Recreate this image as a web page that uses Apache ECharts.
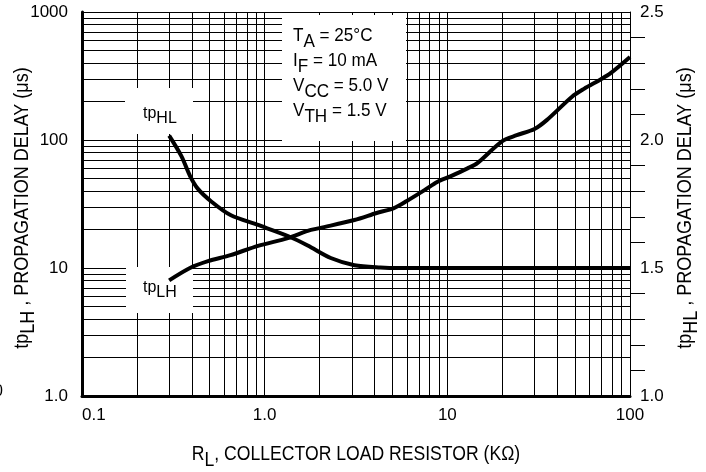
<!DOCTYPE html>
<html><head><meta charset="utf-8">
<script src="https://cdn.jsdelivr.net/npm/echarts@6/dist/echarts.min.js"></script>
<style>html,body{margin:0;padding:0;background:#fff}#c{width:706px;height:472px}</style>
</head><body><div id="c"></div>
<script>
// ---- data ----
const tpLH_x = [0.3, 0.39, 0.49, 0.65, 0.92, 1.34, 1.72, 2.0, 3.1, 4.1, 5.1, 6.0, 7.5, 8.8, 10.4, 12.9, 14.6, 20, 24, 30, 35, 48, 56, 69, 78, 100];
const tpLH_y = [8.0, 10.0, 11.3, 12.6, 14.9, 17.1, 19.5, 20.5, 23.7, 26.9, 29.4, 33.4, 40.6, 47, 52, 60, 66, 98, 109, 122, 143, 217, 251, 297, 331, 445];
const tpHL_x = [0.3, 0.35, 0.39, 0.43, 0.51, 0.65, 0.92, 1.34, 1.72, 2.3, 3.1, 4.3, 5.5, 10, 100];
const tpHL_v = [2.017, 1.937, 1.86, 1.81, 1.76, 1.707, 1.668, 1.625, 1.588, 1.539, 1.511, 1.502, 1.5, 1.5, 1.5];

const xLabelValues = [0.1, 1, 10, 100];
const xLabelText = ['0.1', '1.0', '10', '100'];
const yLeftLabelValues = [1, 10, 100, 1000];
const yLeftLabelText = ['1.0', '10', '100', '1000'];
const conditions = [['T', 'A', ' = 25°C'], ['I', 'F', ' = 10 mA'], ['V', 'CC', ' = 5.0 V'], ['V', 'TH', ' = 1.5 V']];
const xTitle = ['R', 'L', ', COLLECTOR LOAD RESISTOR (KΩ)'];
const yLeftTitle = ['tp', 'LH', ' , PROPAGATION DELAY (μs)'];
const yRightTitle = ['tp', 'HL', ' , PROPAGATION DELAY (μs)'];

// grid line values (1..9 per decade)
function decadeValues(lo, hi) {
  const out = [];
  for (let d = lo; d < hi * 0.999; d *= 10) for (let k = 1; k <= 9; k++) out.push(+(k * d).toPrecision(6));
  out.push(hi);
  return out;
}
const xGrid = decadeValues(0.1, 100);
const yGrid = decadeValues(1, 1000);

const FONT = "'Liberation Sans', Arial, sans-serif";

function pick(vals, texts, v) {
  for (let i = 0; i < vals.length; i++) if (Math.abs(vals[i] - v) / vals[i] < 1e-6) return texts[i];
  return '';
}
function rich(size, drop) {
  return {
    n: {fontSize: size, fontFamily: FONT, fill: '#000', padding: [0, 0, drop, 0], verticalAlign: 'bottom'},
    s: {fontSize: size, fontFamily: FONT, fill: '#000', verticalAlign: 'bottom'}
  };
}
const sub = t => '{n|' + t[0] + '}{s|' + t[1] + '}{n|' + t[2] + '}';

const chart = echarts.init(document.getElementById('c'), null, {renderer: 'canvas'});
const condText = conditions.map(sub).join('\n');

chart.setOption({
  animation: false,
  backgroundColor: '#fff',
  grid: {left: 82, right: 76, top: 12, bottom: 76, containLabel: false, outerBoundsMode: 'none'},
  xAxis: {
    type: 'log', logBase: 10, min: 0.1, max: 100,
    axisLine: {show: true, lineStyle: {color: '#000', width: 3}},
    axisTick: {show: false, customValues: xGrid},
    axisLabel: {customValues: xLabelValues, formatter: v => pick(xLabelValues, xLabelText, v),
      color: '#000', fontSize: 17, fontFamily: FONT, margin: 11, alignMinLabel: 'left'},
    splitLine: {show: true, lineStyle: {color: '#000', width: 1}}
  },
  yAxis: [{
    type: 'log', logBase: 10, min: 1, max: 1000, position: 'left',
    axisLine: {show: true, lineStyle: {color: '#000', width: 3}},
    axisTick: {show: false, customValues: yGrid},
    axisLabel: {customValues: yLeftLabelValues, formatter: v => pick(yLeftLabelValues, yLeftLabelText, v),
      color: '#000', fontSize: 17, fontFamily: FONT, margin: 14},
    splitLine: {show: true, lineStyle: {color: '#000', width: 1}}
  }, {
    type: 'value', min: 1, max: 2.5, interval: 0.5, position: 'right',
    axisLine: {show: true, lineStyle: {color: '#000', width: 1}},
    axisTick: {show: false},
    minorTick: {show: true, splitNumber: 5, length: 15, lineStyle: {color: '#000', width: 1}},
    axisLabel: {formatter: v => v.toFixed(1), color: '#000', fontSize: 17, fontFamily: FONT, margin: 10},
    splitLine: {show: false}
  }],
  series: [{
    name: 'tpLH', type: 'line', xAxisIndex: 0, yAxisIndex: 0, z: 5,
    data: tpLH_x.map((x, i) => [x, tpLH_y[i]]),
    symbol: 'none', smooth: 0.3, lineStyle: {color: '#000', width: 4}
  }, {
    name: 'tpHL', type: 'line', xAxisIndex: 0, yAxisIndex: 1, z: 5,
    data: tpHL_x.map((x, i) => [x, tpHL_v[i]]),
    symbol: 'none', smooth: 0.3, lineStyle: {color: '#000', width: 4}
  }],
  graphic: [
    {type: 'rect', z: 3, silent: true, shape: {x: 125, y: 88, width: 68, height: 46}, style: {fill: '#fff'}},
    {type: 'rect', z: 3, silent: true, shape: {x: 126, y: 267, width: 67, height: 46}, style: {fill: '#fff'}},
    {type: 'rect', z: 3, silent: true, shape: {x: 282, y: 15, width: 124, height: 126}, style: {fill: '#fff'}},
    {type: 'text', z: 4, x: 143, y: 106, style: {text: '{n|tp}{s|HL}', rich: rich(16, 5), fill: '#000'}},
    {type: 'text', z: 4, x: 143, y: 280, style: {text: '{n|tp}{s|LH}', rich: rich(16, 5), fill: '#000'}},
    {type: 'text', z: 4, x: 293, y: 26, scaleX: 0.9, style: {text: condText, rich: rich(19, 6), fill: '#000'}},
    {type: 'text', z: 4, x: 356, y: 444, scaleX: 0.88, style: {text: sub(xTitle), rich: rich(20, 6), fill: '#000', align: 'center'}},
    {type: 'text', z: 4, x: 12, y: 208, rotation: Math.PI / 2, scaleX: 0.9, style: {text: sub(yLeftTitle), rich: rich(20, 6), fill: '#000', align: 'center'}},
    {type: 'text', z: 4, x: 675, y: 208, rotation: Math.PI / 2, scaleX: 0.9, style: {text: sub(yRightTitle), rich: rich(20, 6), fill: '#000', align: 'center'}},
    {type: 'text', z: 4, x: -6, y: 384, style: {text: '0', font: '16px ' + FONT, fill: '#000'}}
  ]
});
</script>
</body></html>
